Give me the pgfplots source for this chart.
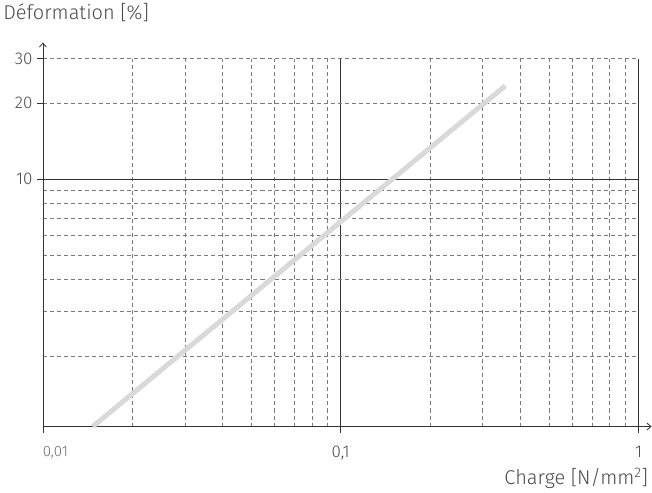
\documentclass[border=0pt]{standalone}
\usepackage{fontspec}
\setmainfont{Fira Sans Light}
\usepackage{pgfplots}
\pgfplotsset{compat=1.18}
\usetikzlibrary{arrows.meta}
\definecolor{axc}{HTML}{333333}
\definecolor{gridc}{HTML}{7A7A7A}
\definecolor{txt}{HTML}{4A4A4A}
\definecolor{linec}{HTML}{D9D9D9}
\begin{document}
\begin{tikzpicture}
\begin{axis}[
  scale only axis,
  width=594bp, height=367bp,
  xmode=log, ymode=log,
  xmin=0.01, xmax=1, ymin=1.05, ymax=30,
  axis lines=left,
  axis line style={axc, line width=0.8pt},
  x axis line style={-{Straight Barb[length=4pt,width=7pt]}, shorten >=-13bp},
  y axis line style={-{Straight Barb[length=4pt,width=7pt]}, shorten >=-16bp},
  xtick={0.01,0.1,1},
  xticklabels={{\makebox[0pt][l]{\fontsize{15}{18}\selectfont\color{txt!80} 0,01}},{0,1},{1}},
  ytick={10},
  yticklabels={10},
  extra y ticks={20,30},
  extra y tick labels={20,30},
  extra y tick style={grid=none},
  minor ytick={2,3,4,5,6,7,8,9,20,30},
  tick align=outside,
  major tick length=6bp,
  minor tick length=0pt,
  tick style={axc, line width=0.6pt},
  ticklabel style={text=txt, font=\fontsize{17}{20}\selectfont},
  xticklabel style={yshift=-10bp},
  yticklabel style={xshift=-1bp},
  grid=both,
  major grid style={solid, axc, line width=0.6pt},
  minor grid style={gridc, line width=0.6pt, dash pattern=on 4bp off 3bp},
  xlabel={Charge [N/mm\textsuperscript{2}]},
  ylabel={Déformation [\%]},
  xlabel style={at={(rel axis cs:1,0)}, anchor=base east, yshift=-58bp, xshift=13bp, text=txt, font=\fontsize{20}{24}\selectfont},
  ylabel style={at={(rel axis cs:0,1)}, rotate=-90, anchor=base west, xshift=-43bp, yshift=39bp, text=txt, font=\fontsize{20}{24}\selectfont},
  clip=false,
]
\addplot[linec, line width=5pt, line cap=butt] coordinates {(0.0147,1.05) (0.357,23.4)};
\end{axis}
\end{tikzpicture}
\end{document}
